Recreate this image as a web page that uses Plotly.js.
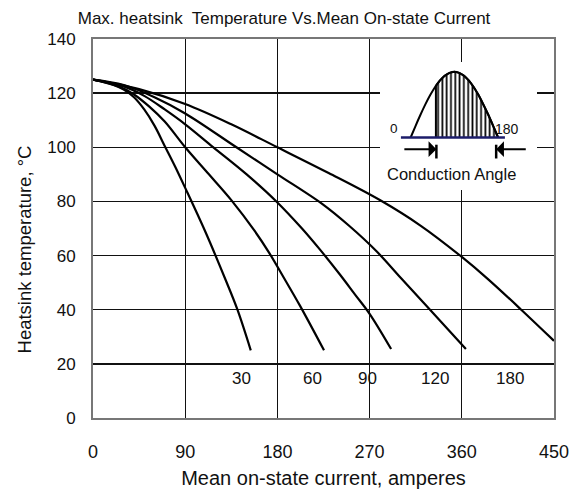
<!DOCTYPE html>
<html><head><meta charset="utf-8">
<script src="https://cdn.plot.ly/plotly-3.0.1.min.js"></script>
<style>html,body{margin:0;padding:0;background:#fff;} #chart{width:575px;height:492px;}</style>
</head><body><div id="chart"></div>
<script>
// Main curves: mean on-state current (A) vs max heatsink temperature (°C)
const cond30X  = [0, 20, 30, 40, 50, 60, 70, 80, 90, 110, 130, 141, 154];
const cond30Y  = [125, 123, 121.3, 118.5, 114, 108, 100.5, 93, 85, 68.5, 50.5, 40, 25];
const cond60X  = [0, 25, 40, 55, 70, 90, 112, 135, 158, 172, 186, 202, 225.5];
const cond60Y  = [125, 122.5, 119.5, 115, 109.5, 100, 90.5, 80.5, 69, 61, 52, 41.5, 25];
const cond90X  = [0, 30, 50, 70, 90, 117.5, 150, 179, 204, 222, 241, 256, 270, 291];
const cond90Y  = [125, 122.5, 119, 114, 108.5, 100, 90, 80, 70, 62, 53, 45.5, 38.5, 25.5];
const cond120X = [0, 30, 60, 90, 140, 180, 224, 250, 277, 301, 329, 364];
const cond120Y = [125, 123, 118.5, 112.5, 100, 90, 79, 71, 61.5, 51.5, 40, 25.5];
const cond180X = [0, 45, 90, 135, 180, 230, 280, 320, 360, 385, 418, 450];
const cond180Y = [125, 121.5, 116, 108.5, 100, 90.5, 80.5, 71, 59.5, 51.5, 40, 28.5];

const curveLabels = ["30", "60", "90", "120", "180"];
const curveLabelX = [145, 214, 268, 334, 407];
const curveLabelY = [14.5, 14.5, 14.5, 14.5, 14.5];

const xTicks = [0, 90, 180, 270, 360, 450];
const yTicks = [0, 20, 40, 60, 80, 100, 120, 140];

// Inset: half sine wave, conduction from firing angle to 180°
const waveAngle = [0, 10, 20, 30, 40, 50, 60, 70, 80, 90, 100, 110, 120, 130, 140, 150, 160, 170, 180];
const waveValue = [0, 0.174, 0.342, 0.5, 0.643, 0.766, 0.866, 0.940, 0.985, 1, 0.985, 0.940, 0.866, 0.766, 0.643, 0.5, 0.342, 0.174, 0];
const hatchAngle = [52, 52, 60, 70, 80, 90, 100, 110, 120, 130, 140, 150, 160, 170, 180];
const hatchValue = [0, 0.788, 0.866, 0.940, 0.985, 1, 0.985, 0.940, 0.866, 0.766, 0.643, 0.5, 0.342, 0.174, 0];
const baseAngle = [-20, 194];
const baseValue = [0, 0];
const insetXRange = [-63, 260];
const insetYRange = [-0.8, 1.15];
const arrowLeft = {tail: -16, head: 53};
const arrowRight = {tail: 240, head: 176};
const arrowLevel = -0.178;
const barSpan = [-0.11, -0.32];

const FONT = "Liberation Sans, Arial, sans-serif";
const black = "#000";

function curve(x, y) {
  return {x: x, y: y, type: "scatter", mode: "lines", xaxis: "x", yaxis: "y",
          line: {color: black, width: 2.2, shape: "spline", smoothing: 1},
          hoverinfo: "skip", showlegend: false};
}

const traces = [
  curve(cond30X, cond30Y), curve(cond60X, cond60Y), curve(cond90X, cond90Y),
  curve(cond120X, cond120Y), curve(cond180X, cond180Y),
  {x: hatchAngle, y: hatchValue, type: "scatter", mode: "lines", xaxis: "x2", yaxis: "y2",
   fill: "tozeroy", fillcolor: "#fff",
   fillpattern: {shape: "|", fgcolor: black, bgcolor: "#fff", size: 4.3, solidity: 0.4},
   line: {color: black, width: 2}, showlegend: false, hoverinfo: "skip"},
  {x: waveAngle, y: waveValue, type: "scatter", mode: "lines", xaxis: "x2", yaxis: "y2",
   line: {color: black, width: 2, shape: "spline"}, showlegend: false, hoverinfo: "skip"},
  {x: baseAngle, y: baseValue, type: "scatter", mode: "lines", xaxis: "x2", yaxis: "y2",
   line: {color: "#1c1c6a", width: 2.5}, showlegend: false, hoverinfo: "skip"}
];

const annotations = curveLabels.map((t, i) => ({
  text: t, x: curveLabelX[i], y: curveLabelY[i], xref: "x", yref: "y",
  showarrow: false, font: {family: FONT, size: 17, color: "#111"}
}));
annotations.push(
  {text: "Heatsink temperature, °C", xref: "paper", yref: "paper", x: -0.1486, y: 0.446,
   xanchor: "center", yanchor: "middle",
   textangle: -90, showarrow: false, font: {family: FONT, size: 18.5, color: "#111"}},
  {text: "0", xref: "x2", yref: "y2", x: -34, y: 0.13, showarrow: false,
   font: {family: FONT, size: 13.5, color: "#111"}},
  {text: "180", xref: "x2", yref: "y2", x: 199, y: 0.13, showarrow: false,
   font: {family: FONT, size: 14, color: "#111"}},
  {text: "Conduction Angle", xref: "x2", yref: "y2", x: 85, y: -0.56, showarrow: false,
   font: {family: FONT, size: 16.5, color: "#111"}},
  {text: "", xref: "x2", yref: "y2", axref: "x2", ayref: "y2",
   x: arrowLeft.head, y: arrowLevel, ax: arrowLeft.tail, ay: arrowLevel,
   showarrow: true, arrowhead: 1, arrowsize: 1.3, arrowwidth: 2, arrowcolor: black, standoff: 0, startstandoff: 0},
  {text: "", xref: "x2", yref: "y2", axref: "x2", ayref: "y2",
   x: arrowRight.head, y: arrowLevel, ax: arrowRight.tail, ay: arrowLevel,
   showarrow: true, arrowhead: 1, arrowsize: 1.3, arrowwidth: 2, arrowcolor: black, standoff: 0, startstandoff: 0}
);

const shapes = [
  {type: "rect", xref: "x2", yref: "y2", x0: insetXRange[0], x1: insetXRange[1],
   y0: insetYRange[0], y1: insetYRange[1], fillcolor: "#fff", line: {width: 0}, layer: "below"},
  {type: "line", xref: "x2", yref: "y2", x0: arrowLeft.head, x1: arrowLeft.head,
   y0: barSpan[0], y1: barSpan[1], line: {color: black, width: 2.5}},
  {type: "line", xref: "x2", yref: "y2", x0: arrowRight.head, x1: arrowRight.head,
   y0: barSpan[0], y1: barSpan[1], line: {color: black, width: 2.5}}
];

const layout = {
  width: 575, height: 492,
  margin: {l: 93, r: 21, t: 39, b: 74},
  paper_bgcolor: "#fff", plot_bgcolor: "#fff",
  font: {family: FONT, color: "#111"},
  title: {text: "Max. heatsink  Temperature Vs.Mean On-state Current",
          xref: "container", x: 0.494, y: 0.964, yanchor: "middle", xanchor: "center",
          font: {family: FONT, size: 17, color: "#111"}},
  xaxis: {range: [0, 450], tickvals: xTicks, ticktext: xTicks.map(String),
          showgrid: true, gridcolor: "#111", gridwidth: 1.4, zeroline: false,
          showline: true, mirror: true, linecolor: "#777", linewidth: 2,
          ticks: "", ticklabelstandoff: 16, tickfont: {family: FONT, size: 18, color: "#111"},
          title: {text: "Mean on-state current, amperes", standoff: 10,
                  font: {family: FONT, size: 20, color: "#111"}},
          domain: [0, 1], fixedrange: true},
  yaxis: {range: [0, 140], tickvals: yTicks, ticktext: yTicks.map(String),
          showgrid: true, gridcolor: "#111", gridwidth: 1.4, zeroline: false,
          showline: true, mirror: true, linecolor: "#777", linewidth: 2,
          ticks: "", ticklabelstandoff: 12, tickfont: {family: FONT, size: 17, color: "#111"},
          domain: [0, 1], fixedrange: true},
  xaxis2: {domain: [0.6226, 0.9631], range: insetXRange, anchor: "y2", visible: false, fixedrange: true},
  yaxis2: {domain: [0.6016, 0.9393], range: insetYRange, anchor: "x2", visible: false, fixedrange: true},
  annotations: annotations,
  shapes: shapes
};

Plotly.newPlot("chart", traces, layout, {displayModeBar: false, staticPlot: true});
</script></body></html>
